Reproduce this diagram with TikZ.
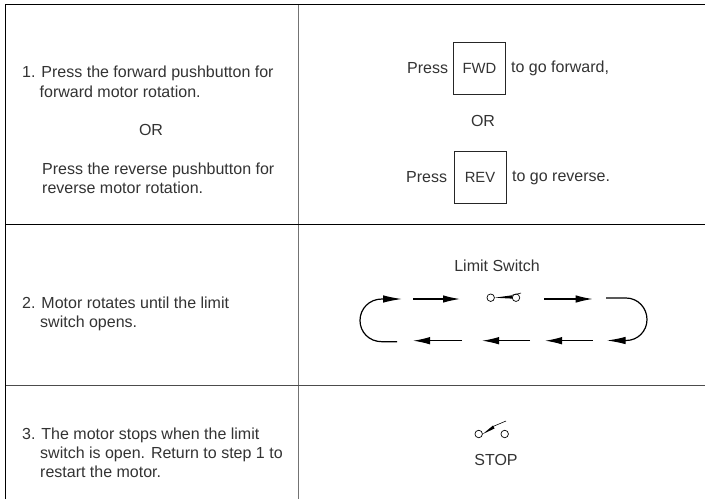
\documentclass[tikz,border=0pt]{standalone}
\usepackage{fontspec}
\setmainfont{Liberation Sans}
\usetikzlibrary{arrows.meta}
\definecolor{txt}{gray}{0.2}
\tikzset{
  x=1pt,y=-1pt,
  blk/.style={line width=1pt,black},
  midline/.style={line width=1pt,black!70},
  gridline/.style={line width=1.1pt,black!55},
  lbl/.style={inner sep=0pt,text=txt,font=\fontsize{16pt}{19pt}\selectfont,anchor=base west},
  ctr/.style={lbl,anchor=base},
  keybox/.style={draw=black!85,line width=0.9pt,minimum width=52pt,minimum height=51.5pt,inner sep=0pt,text=txt,font=\fontsize{14.8pt}{18pt}\selectfont},
  flow/.style={line width=1.2pt,black,-{Latex[length=17pt,width=7.5pt]}},
  plain/.style={line width=1.2pt,black},
  looptip/.style={plain,-{Latex[length=19pt,width=7.5pt]}},
  term/.style={circle,draw=black,line width=0.7pt,fill=white,minimum size=7.5pt,inner sep=0pt},
  armline/.style={line width=0.6pt,black},
}
\begin{document}
\begin{tikzpicture}
\useasboundingbox (0,0) rectangle (705,499);
\fill[white] (0,0) rectangle (705,499);
\coordinate (tl) at (5.5,4.5);
\coordinate (tm) at (298.5,4.5);
\coordinate (tr) at (705,4.5);
\coordinate (ml1) at (5.5,224.3);
\coordinate (mr1) at (705,224.3);
\coordinate (ml2) at (5.5,385.7);
\coordinate (mr2) at (705,385.7);
\coordinate (bl) at (5.5,499);
\coordinate (bm) at (298.5,499);
\draw[gridline] (tm) -- (bm);
\draw[midline] (ml2) -- (mr2);
\draw[blk] (ml1) -- (mr1);
\draw[blk] (bl) -- (tl) -- (tr);
% left column
\node[lbl] (a1) at (22,77.7) {1. Press the forward pushbutton for};
\node[lbl] (a2) at (39.5,97) {forward motor rotation.};
\node[ctr] (a3) at (151,135) {OR};
\node[lbl] (a4) at (42,174) {Press the reverse pushbutton for};
\node[lbl] (a5) at (42,193.3) {reverse motor rotation.};
\node[lbl] (b1) at (22,308.3) {2. Motor rotates until the limit};
\node[lbl] (b2) at (40,327.7) {switch opens.};
\node[lbl] (c1) at (22,439) {3. The motor stops when the limit};
\node[lbl] (c2) at (40,458.3) {switch is open. Return to step 1 to};
\node[lbl] (c3) at (40,477.7) {restart the motor.};
% right top
\node[lbl] (p1) at (407,73) {Press};
\node[keybox] (fwd) at (479.5,68.5) {FWD};
\node[lbl] (p2) at (511,72.7) {to go forward,};
\node[ctr] (or) at (483,126) {OR};
\node[lbl] (p3) at (406,182) {Press};
\node[keybox] (rev) at (480,177.5) {REV};
\node[lbl] (p4) at (512,181.7) {to go reverse.};
% limit switch
\node[ctr] (ls) at (497,271) {Limit Switch};
\node[term] (s1) at (490.7,297.7) {};
\node[term] (s2) at (516,297.7) {};
\fill (s1.east) -- (512,295.3) -- (512,298.6) -- cycle;
\draw[armline] (512,295.3) -- (521,293);
% loop
\coordinate (l1a) at (397,341.7);
\coordinate (l1b) at (382,341.7);
\coordinate (l1c) at (382,299);
\coordinate (l1d) at (402,299);
\draw[looptip] (l1a) -- (l1b) .. controls (369,341.7) and (360,332) .. (360,320.5) .. controls (360,309) and (369,299) .. (l1c) -- (l1d);
\coordinate (t1a) at (413,299);
\coordinate (t1b) at (460,299);
\draw[flow] (t1a) -- (t1b);
\coordinate (t2a) at (544,299);
\coordinate (t2b) at (592.7,299);
\draw[flow] (t2a) -- (t2b);
\coordinate (r1a) at (606,298);
\coordinate (r1b) at (626,298);
\coordinate (r1c) at (626,340.5);
\coordinate (r1d) at (606.7,340.5);
\draw[looptip] (r1a) -- (r1b) .. controls (638,298) and (647,308) .. (647,319.5) .. controls (647,331) and (638,340.5) .. (r1c) -- (r1d);
\coordinate (b1a) at (592.7,340.7);
\coordinate (b1b) at (545,340.7);
\draw[flow] (b1a) -- (b1b);
\coordinate (b2a) at (530,340.7);
\coordinate (b2b) at (482,340.7);
\draw[flow] (b2a) -- (b2b);
\coordinate (b3a) at (462,340.7);
\coordinate (b3b) at (413,340.7);
\draw[flow] (b3a) -- (b3b);
% stop switch
\node[term] (o1) at (478.7,434) {};
\node[term] (o2) at (504.7,434) {};
\fill (o1.east) -- (493,425.5) -- (494.5,428.5) -- cycle;
\draw[armline] (493,426.5) -- (506,421);
\node[ctr] (stop) at (496,465) {STOP};
\end{tikzpicture}
\end{document}
